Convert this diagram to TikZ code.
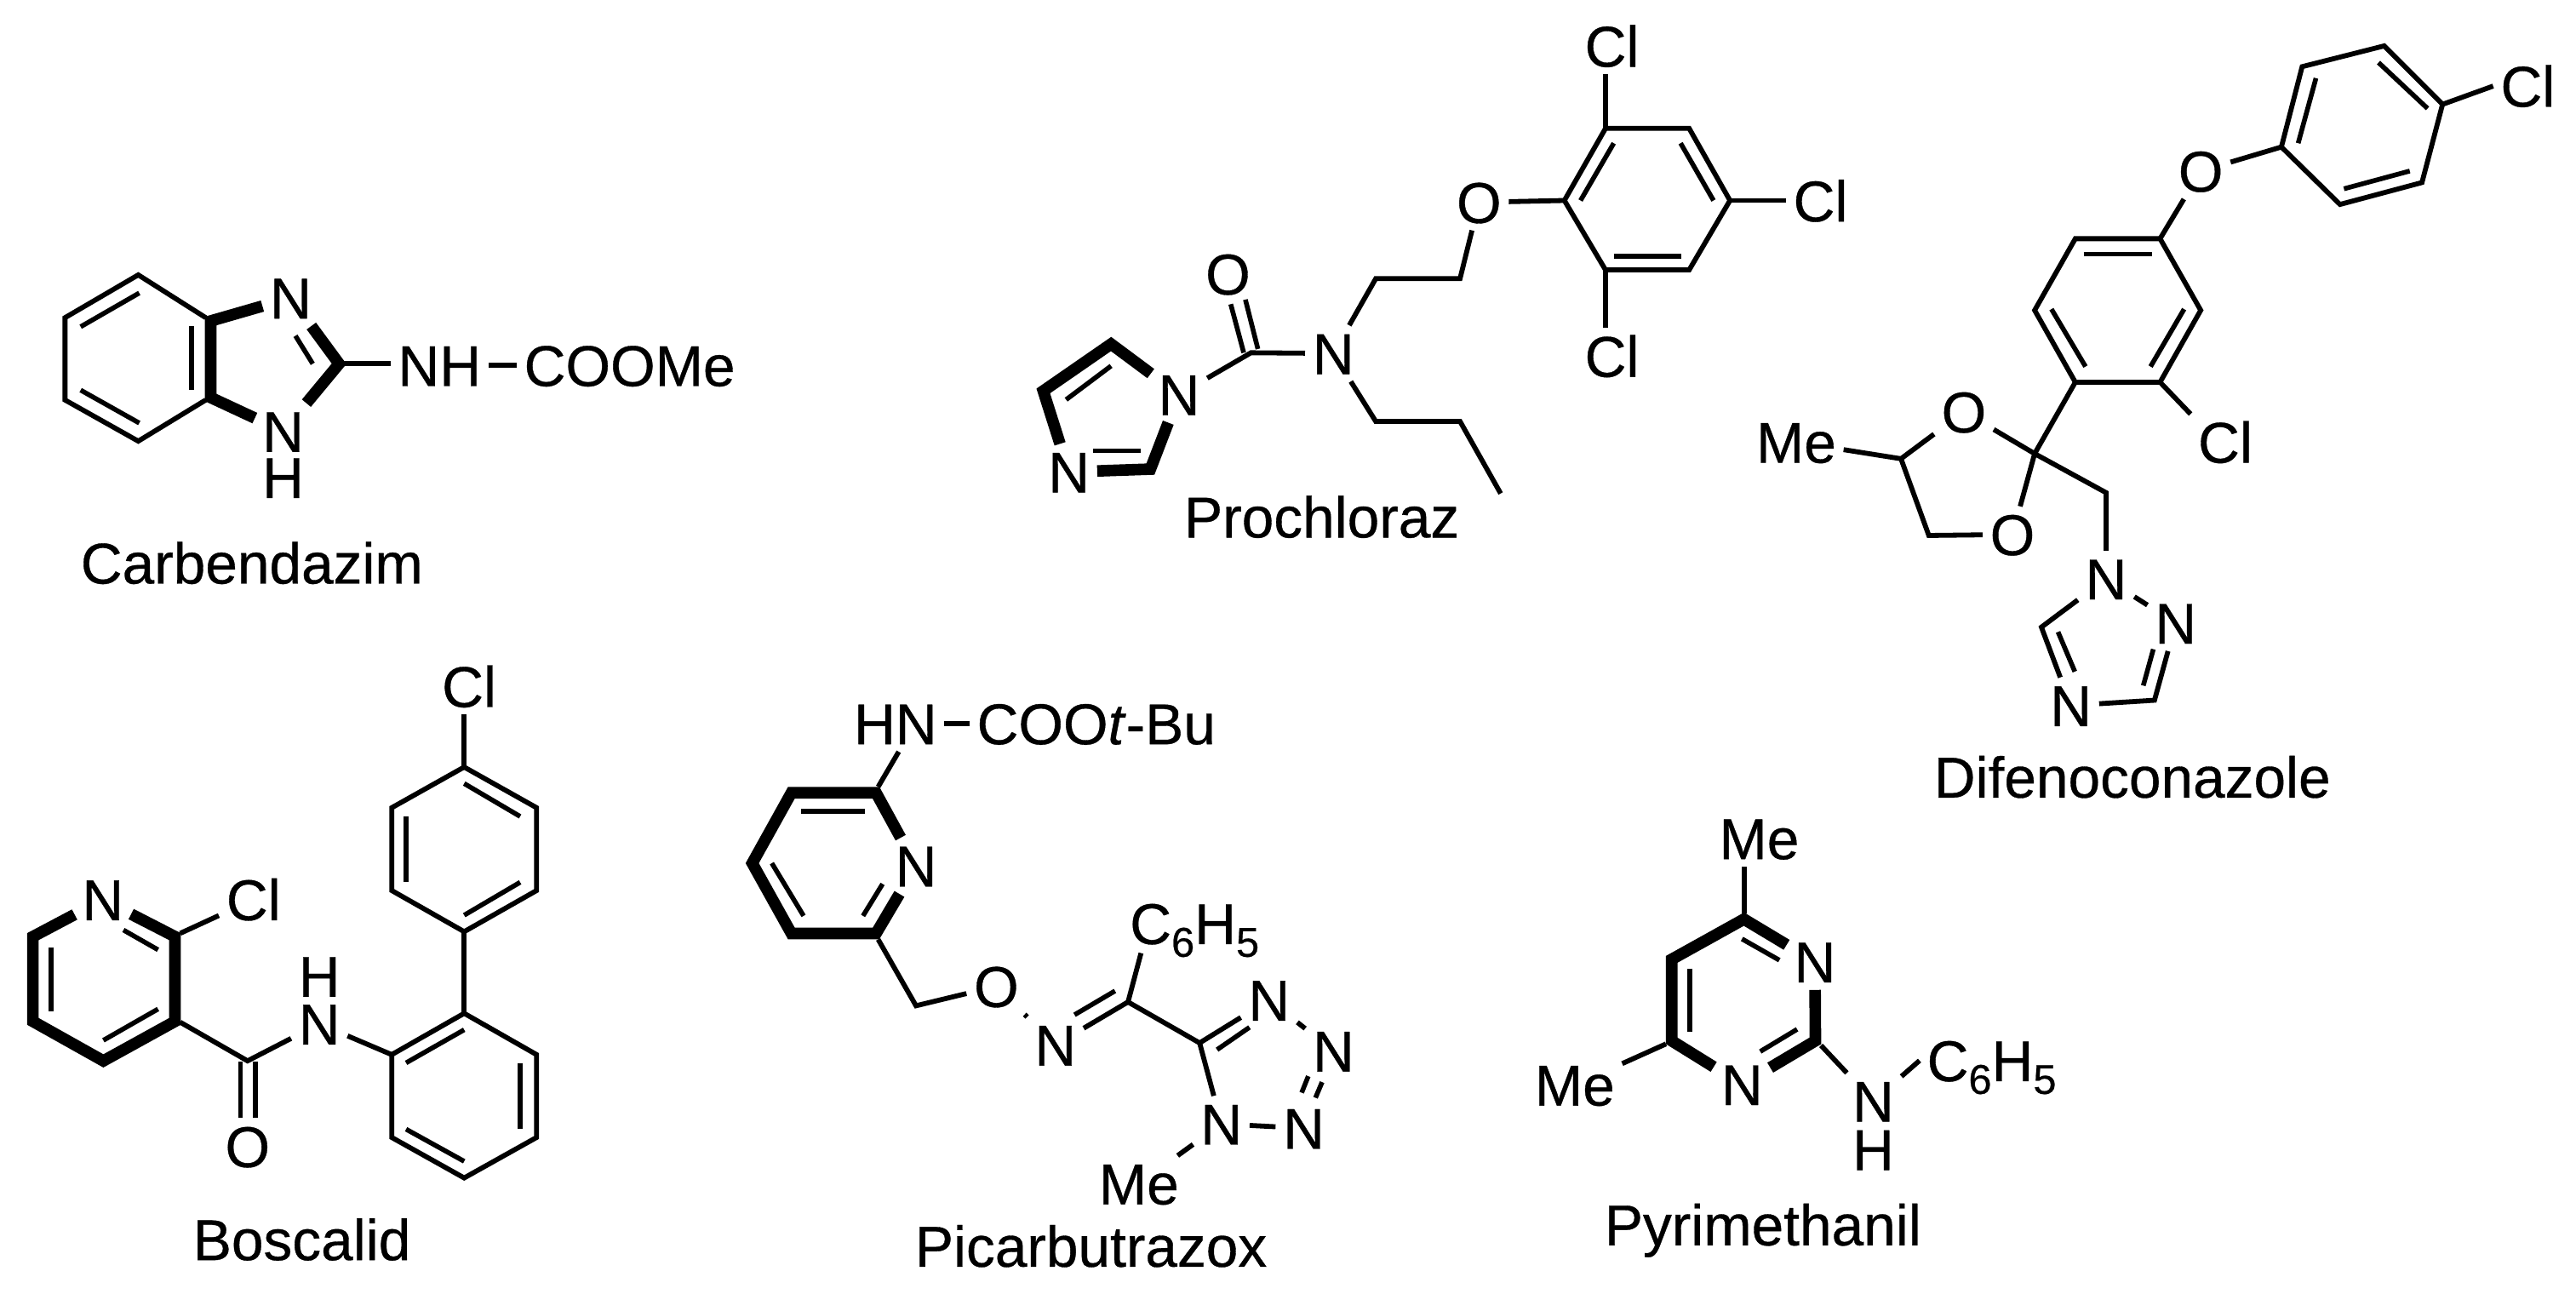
\documentclass[tikz,border=0pt]{standalone}
\usepackage{fontspec}
\setmainfont[FakeBold=0.5]{Liberation Sans}
\usetikzlibrary{calc}
\newcommand\sbt[1]{\raisebox{-0.22em}{\fontsize{12.2}{12.2}\selectfont #1}}
\tikzset{
  x=0.4834pt,y=-0.4834pt,
  bond/.style={draw=black,line width=1.45pt,line join=miter},
  bold/.style={draw=black,line width=3.4pt,line join=miter},
  inbond/.style={draw=black,line width=1.4pt},
  atom/.style={font=\fontsize{16.9}{18}\selectfont,inner sep=2pt,text height=12.1pt,text depth=0pt,text=black},
  title/.style={atom},
}
\begin{document}
\begin{tikzpicture}
\useasboundingbox[fill=white] (0,0) rectangle (1565,786);
% ===== Carbendazim =====
\path (84,167) coordinate (a1) (39.5,193) coordinate (a2) (39.5,243) coordinate (a3) (84,268) coordinate (a4)
      (125,243) coordinate (a5) (125,193) coordinate (a6) (128,195) coordinate (a7) (128,241.5) coordinate (a8) (206,221) coordinate (a9);
\node[atom] (aN) at (176.6,181) {N};
\node[atom] (aNb) at (172,262) {N};
\node[atom] (aH) at (172,290) {H};
\node[atom] (aNH) at (267,222) {NH};
\node[atom] (aCO) at (382.5,222) {COOMe};
\node[title] (aT) at (153,342) {Carbendazim};
\draw[bond] (a6) -- (a1) -- (a2) -- (a3) -- (a4) -- (a5);
\draw[bold] (aN) -- (a7) -- (a8) -- (aNb);
\draw[bold] (aN) -- (a9) -- (aNb);
\draw[bond] (a9) -- (aNH.west |- a9);
\draw[bond] (aNH) -- (aCO);
\draw[inbond] (116.3,198) -- (116.3,237);
\draw[inbond] (49,198.5) -- (84.6,178);
\draw[inbond] (49,237) -- (84.6,257);
\draw[inbond] (179.5,204) -- (190,221);
% ===== Prochloraz =====
\path (975.4,78) coordinate (b1) (1026.2,78) coordinate (b2) (1051,121.8) coordinate (b3) (1026.2,164) coordinate (b4)
      (975.4,164) coordinate (b5) (950.4,121.8) coordinate (b6) (887,169.3) coordinate (b7) (835.8,169.3) coordinate (b8)
      (835.8,256) coordinate (b9) (887,256) coordinate (b10) (911.7,299.8) coordinate (b11) (760,214.3) coordinate (b12)
      (675,209) coordinate (b13) (633.8,237.5) coordinate (b14) (698.9,285) coordinate (b15);
\node[atom] (bCl1) at (979.3,28) {Cl};
\node[atom] (bCl2) at (1106,122) {Cl};
\node[atom] (bCl3) at (979.3,216.4) {Cl};
\node[atom] (bO) at (898.5,122.9) {O};
\node[atom] (bN) at (810,214.7) {N};
\node[atom] (bOc) at (746,166.4) {O};
\node[atom] (bNi) at (716.3,239.7) {N};
\node[atom] (bNj) at (649.4,286.7) {N};
\node[title] (bT) at (803,314) {Prochloraz};
\draw[bond] (b1) -- (b2) -- (b3) -- (b4) -- (b5) -- (b6) -- cycle;
\draw[bond] (b1) -- (bCl1.south -| b1);
\draw[bond] (b3) -- (bCl2.west |- b3);
\draw[bond] (b5) -- (bCl3.north -| b5);
\draw[bond] (b6) -- (bO);
\draw[bond] (bO) -- (b7) -- (b8) -- (bN);
\draw[bond] (bN) -- (b9) -- (b10) -- (b11);
\draw[bond] (bN) -- (b12) -- (bNi);
\draw[inbond] (747.7,184.8) -- (755.6,214.3);
\draw[inbond] (756.6,182) -- (764.2,212);
\draw[bold] (bNi) -- (b13) -- (b14) -- (bNj);
\draw[bold] (bNi) -- (b15) -- (bNj);
\draw[inbond] (980.4,87) -- (960.2,121.8);
\draw[inbond] (1021,87) -- (1041,121.8);
\draw[inbond] (980.4,155.8) -- (1021.3,155.8);
\draw[inbond] (675,222.3) -- (647.7,242.8);
\draw[inbond] (664.2,273.9) -- (693,273.9);
% ===== Difenoconazole =====
\path (1398.6,40.5) coordinate (c1) (1448.4,27.9) coordinate (c2) (1483.9,63.4) coordinate (c3) (1471.4,110.9) coordinate (c4)
      (1421.6,124.2) coordinate (c5) (1386,89.3) coordinate (c6) (1312.3,145) coordinate (c7) (1260.8,145) coordinate (c8)
      (1236.1,188.5) coordinate (c9) (1260.8,232.2) coordinate (c10) (1312.3,232.2) coordinate (c11) (1337,188.5) coordinate (c12)
      (1236.1,275.6) coordinate (c13) (1279.5,299.3) coordinate (c14) (1171.8,325.3) coordinate (c15) (1154.9,278.7) coordinate (c16)
      (1240.2,381) coordinate (c17) (1308.9,425.4) coordinate (c18);
\node[atom] (cCl1) at (1535.7,52.3) {Cl};
\node[atom] (cO1) at (1337,103.9) {O};
\node[atom] (cCl2) at (1351.9,268.6) {Cl};
\node[atom] (cO2) at (1193.1,250.2) {O};
\node[atom] (cO3) at (1222.6,324.7) {O};
\node[atom] (cMe) at (1091.2,268.6) {Me};
\node[atom] (cN1) at (1279.5,351.6) {N};
\node[atom] (cN2) at (1321.8,378.5) {N};
\node[atom] (cN4) at (1258.1,428.6) {N};
\node[title] (cT) at (1295.4,472) {Difenoconazole};
\draw[bond] (c1) -- (c2) -- (c3) -- (c4) -- (c5) -- (c6) -- cycle;
\draw[bond] (c3) -- (cCl1.west);
\draw[bond] (cO1) -- (c6);
\draw[bond] (cO1) -- (c7);
\draw[bond] (c7) -- (c8) -- (c9) -- (c10) -- (c11) -- (c12) -- cycle;
\draw[bond] (c11) -- (cCl2.north west);
\draw[bond] (c10) -- (c13);
\draw[bond] (cO2) -- (c13) -- (c14) -- (cN1);
\draw[bond] (c13) -- (cO3);
\draw[bond] (cO3) -- (c15) -- (c16) -- (cO2);
\draw[bond] (c16) -- (cMe);
\draw[bond] (cN1) -- (cN2);
\draw[bond] (cN1) -- (c17) -- (cN4);
\draw[bond] (cN4) -- (c18) -- (cN2);
\draw[inbond] (1407,47.5) -- (1396.2,87);
\draw[inbond] (1445,38) -- (1474.8,65.9);
\draw[inbond] (1464,103.9) -- (1424,114.7);
\draw[inbond] (1265.9,154.3) -- (1307.2,154.3);
\draw[inbond] (1246.3,187.8) -- (1267,222.7);
\draw[inbond] (1326.9,187.8) -- (1306.5,222.7);
\draw[inbond] (1250.3,383.9) -- (1260.5,408);
\draw[inbond] (1302.1,416.5) -- (1308.2,394.4);
% ===== Boscalid =====
\path (282,466) coordinate (d1) (326,490.7) coordinate (d2) (326,541) coordinate (d3) (282,566) coordinate (d4)
      (238,541) coordinate (d5) (238,490.7) coordinate (d6) (282,615.6) coordinate (d7) (326,640.7) coordinate (d8)
      (326,691) coordinate (d9) (282,715.6) coordinate (d10) (238,691) coordinate (d11) (238,640.7) coordinate (d12)
      (150.4,644.5) coordinate (d13) (109.5,621) coordinate (d14) (109.5,567) coordinate (d15)
      (20,569) coordinate (d16) (20,620.5) coordinate (d17) (62.8,644.5) coordinate (d18) (106.3,620.5) coordinate (d19) (106.3,569) coordinate (d20);
\node[atom] (dCl1) at (285,417) {Cl};
\node[atom] (dH) at (194,593) {H};
\node[atom] (dN) at (194,622) {N};
\node[atom] (dO) at (150.4,696.5) {O};
\node[atom] (dNp) at (62.5,546.5) {N};
\node[atom] (dCl2) at (154,546.5) {Cl};
\node[title] (dT) at (183.4,753) {Boscalid};
\draw[bond] (d1) -- (d2) -- (d3) -- (d4) -- (d5) -- (d6) -- cycle;
\draw[bond] (d1) -- (dCl1.south -| d1);
\draw[bond] (d4) -- (d7);
\draw[bond] (d7) -- (d8) -- (d9) -- (d10) -- (d11) -- (d12) -- cycle;
\draw[bond] (d12) -- (dN);
\draw[bond] (dN) -- (d13) -- (d14);
\draw[bond] (d15) -- (dCl2);
\draw[bold] (dNp) -- (d16) -- (d17) -- (d18) -- (d19) -- (d20) -- (dNp);
\draw[inbond] (146,645) -- (146,679);
\draw[inbond] (155,645) -- (155,679);
\draw[inbond] (282,476) -- (316,496);
\draw[inbond] (246.7,496) -- (246.7,536);
\draw[inbond] (282,556) -- (316,536);
\draw[inbond] (282,625.6) -- (246.7,645.7);
\draw[inbond] (316,645.7) -- (316,686);
\draw[inbond] (246.7,686) -- (282,705.5);
\draw[inbond] (75,565) -- (96,577);
\draw[inbond] (31,575.4) -- (31,614.5);
\draw[inbond] (62.8,632) -- (96,613);
% ===== Picarbutrazox =====
\path (533.5,478) coordinate (e1) (532.2,481.6) coordinate (e2) (480.8,481.6) coordinate (e3) (457,524.4) coordinate (e4)
      (480.8,567.1) coordinate (e5) (532.2,567.1) coordinate (e6) (533.5,570.7) coordinate (e7) (556.5,611) coordinate (e8)
      (685.3,608.7) coordinate (e9) (728.8,633.6) coordinate (e10);
\node[atom] (eHN) at (544,439.6) {HN};
\node[atom] (eCO) at (666,439.6) {COO\textit{t}-Bu};
\node[atom] (eN) at (556.5,526) {N};
\node[atom] (eO) at (605.3,599.2) {O};
\node[atom] (eNo) at (641.2,634.8) {N};
\node[atom] (ePh) at (725.7,561) {C\sbt{6}H\sbt{5}};
\node[atom] (eN1) at (771,607.5) {N};
\node[atom] (eN2) at (810.1,638.4) {N};
\node[atom] (eN3) at (792.1,685.4) {N};
\node[atom] (eN4) at (742,682.8) {N};
\node[atom] (eMe) at (691.9,719.1) {Me};
\node[title] (eT) at (662.8,757) {Picarbutrazox};
\draw[bond] (eHN) -- (eCO);
\draw[bond] (e1) -- ($(eHN.south)+(2,0)$);
\draw[bold] (eN) -- (e2) -- (e3) -- (e4) -- (e5) -- (e6) -- (eN);
\draw[bond] (e7) -- (e8) -- (eO);
\draw[bond] (eO) -- (eNo);
\draw[bond] (eNo) -- (e9);
\draw[bond] (e9) -- (693.2,579);
\draw[bond] (e9) -- (e10) -- (eN1);
\draw[bond] (eN1) -- (eN2);
\draw[bond] (eN3) -- (eN4);
\draw[bond] (e10) -- (eN4);
\draw[bond] (eN4) -- (eMe);
\draw[inbond] (486.8,492.8) -- (525.6,492.8);
\draw[inbond] (468.9,524.4) -- (488.2,556.4);
\draw[inbond] (524.3,556.4) -- (536.2,537);
\draw[inbond] (652.8,616.5) -- (677.4,602);
\draw[inbond] (739.4,637.7) -- (759.1,624.1);
\draw[inbond] (794.8,653.8) -- (790.8,663.8);
\draw[inbond] (803.2,657.4) -- (799.2,666.9);
% ===== Pyrimethanil =====
\path (1059.5,554.7) coordinate (f1) (1059.5,558.4) coordinate (f2) (1015.6,582.8) coordinate (f3) (1015.6,632.3) coordinate (f4)
      (1102.9,632.3) coordinate (f5) (1012.1,634.2) coordinate (f6) (1106.3,635.1) coordinate (f7);
\node[atom] (fMe1) at (1068.7,509.4) {Me};
\node[atom] (fN1) at (1102.6,584.3) {N};
\node[atom] (fN2) at (1058.3,658.8) {N};
\node[atom] (fMe2) at (956.7,659.1) {Me};
\node[atom] (fN) at (1138,668.9) {N};
\node[atom] (fH) at (1138,698.3) {H};
\node[atom] (fPh) at (1210,644.3) {C\sbt{6}H\sbt{5}};
\node[title] (fT) at (1071,744) {Pyrimethanil};
\draw[bond] (f1) -- (fMe1.south -| f1);
\draw[bold] (fN1) -- (f2) -- (f3) -- (f4) -- (fN2);
\draw[bold] (fN1) -- (f5) -- (fN2);
\draw[bond] (f6) -- (fMe2);
\draw[bond] (f7) -- (fN);
\draw[bond] (fN) -- (fPh.west);
\draw[inbond] (1058.3,570.4) -- (1081,583.3);
\draw[inbond] (1026.7,588.3) -- (1026.7,626.8);
\draw[inbond] (1069.4,638.8) -- (1091.8,625.3);
\end{tikzpicture}
\end{document}
